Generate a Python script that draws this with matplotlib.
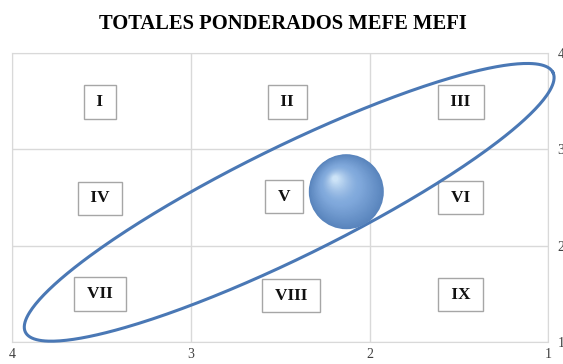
import numpy as np
import matplotlib
matplotlib.use("Agg")
import matplotlib.pyplot as plt

# Matrix data
title = "TOTALES PONDERADOS MEFE MEFI"
x_ticks = [4, 3, 2, 1]
y_ticks = [1, 2, 3, 4]
cell_labels = ["I", "II", "III", "IV", "V", "VI", "VII", "VIII", "IX"]
cell_x = [3.51, 2.46, 1.49, 3.51, 2.48, 1.49, 3.51, 2.44, 1.49]
cell_y = [3.49, 3.49, 3.49, 2.49, 2.51, 2.50, 1.50, 1.48, 1.49]

# Weighted totals (MEFE on x, MEFI on y)
mefe_total = 2.13
mefi_total = 2.56

# Ellipse around the diagonal (centre in data units, axes in pixels)
ell_cx, ell_cy = 2.45, 2.45
ell_a, ell_b, ell_angle = 294, 55, 26.2

plt.rcParams['font.family'] = ['Liberation Serif', 'DejaVu Serif']

fig = plt.figure(figsize=(5.63, 3.64), dpi=100)
ax = fig.add_axes([0.0222, 0.0604, 0.9512, 0.794])
ax.set_xlim(4, 1)
ax.set_ylim(1, 4)
ax.set_xticks(x_ticks)
ax.set_yticks(y_ticks)
ax.yaxis.tick_right()
ax.tick_params(length=0, labelsize=10, colors="#404040")
ax.tick_params(axis="x", pad=4)
ax.tick_params(axis="y", pad=7)
ax.grid(True, color="#d9d9d9", linewidth=1)
for s in ax.spines.values():
    s.set_color("#d9d9d9")

fig.suptitle(title, x=0.502, y=0.962, fontsize=14.8, fontweight="bold", va="top")

# Quadrant labels
for lab, xx, yy in zip(cell_labels, cell_x, cell_y):
    ax.text(xx, yy, " " + lab + " ", ha="center", va="center", fontsize=12.5,
            fontweight="bold", color="#111111", zorder=4,
            bbox=dict(boxstyle="square,pad=0.5", fc="white", ec="#a6a6a6", lw=1))

# Ellipse, built in pixel space then mapped back to data
fig.canvas.draw()
cpx = ax.transData.transform((ell_cx, ell_cy))
t = np.linspace(0, 2 * np.pi, 400)
th = np.radians(ell_angle)
ex = ell_a * np.cos(t) * np.cos(th) - ell_b * np.sin(t) * np.sin(th)
ey = ell_a * np.cos(t) * np.sin(th) + ell_b * np.sin(t) * np.cos(th)
pts = ax.transData.inverted().transform(np.column_stack([cpx[0] + ex, cpx[1] + ey]))
ax.plot(pts[:, 0], pts[:, 1], color="#4a78b5", lw=2.2, zorder=5, clip_on=False)

# Shaded bubble
bpx = ax.transData.transform((mefe_total, mefi_total))
r = 37.5
n = 40
edge = np.array([0.35, 0.52, 0.74])
mid = np.array([0.50, 0.66, 0.86])
hi = np.array([0.80, 0.89, 0.97])
for i in range(n):
    f = i / (n - 1)
    rad = r * (1 - 0.92 * f)
    off = np.array([-11, 13]) * f
    c = ax.transData.inverted().transform(bpx + off)
    if f < 0.5:
        col = edge + (mid - edge) * (f / 0.5)
    else:
        col = mid + (hi - mid) * ((f - 0.5) / 0.5) ** 1.5
    ax.scatter([c[0]], [c[1]], s=(2 * rad * 0.72) ** 2, color=col,
               edgecolors="none", zorder=6 + f)

fig.savefig("out.png", dpi=100)
